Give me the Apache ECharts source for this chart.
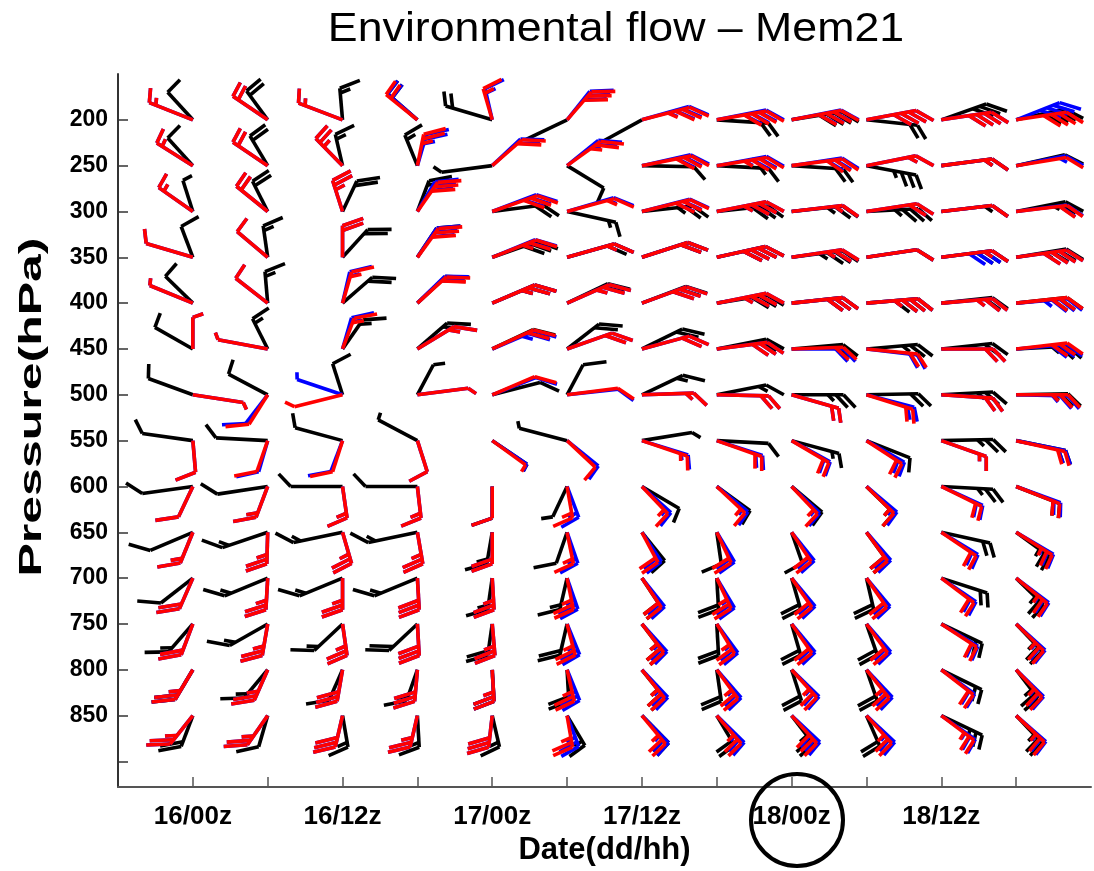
<!DOCTYPE html>
<html><head><meta charset="utf-8">
<script src="https://cdn.jsdelivr.net/npm/echarts@6/dist/echarts.min.js"></script>
<style>html,body{margin:0;padding:0;background:#fff}#c{width:1094px;height:871px}</style>
</head><body><div id="c"></div>
<script>
// hours after 15/18z for each barb column (16/00z ... 18/18z)
const colHours = [6,12,18,24,30,36,42,48,54,60,66,72];
const pressures = [200,250,300,350,400,450,500,550,600,650,700,750,800,850];
const yTickLabels = [200,250,300,350,400,450,500,550,600,650,700,750,800,850];
const yTicks = [200,250,300,350,400,450,500,550,600,650,700,750,800,850,900];
const xTicks = [6,12,18,24,30,36,42,48,54,60,66,72];
const xTickLabels = {6:'16/00z',18:'16/12z',30:'17/00z',42:'17/12z',54:'18/00z',66:'18/12z'};

// wind direction (deg, staff points to where wind comes from) and speed (kt)
const blackDir = [
[331,336,357,325,296,232,228,96,75,100,60,70],
[331,340,352,346,258,135,92,95,96,107,78,70],
[349,343,16,13,78,110,80,80,80,85,79,72],
[347,355,29,22,60,65,62,70,78,76,78,75],
[328,357,35,33,55,52,58,75,80,82,80,80],
[313,343,23,35,52,38,51,72,82,82,80,85],
[301,311,349,18,67,18,52,72,90,88,85,88],
[283,275,294,311,138,293,75,95,114,123,88,108],
[257,256,270,270,180,196,134,140,144,148,95,123],
[235,241,251,251,186,192,154,175,168,156,110,140],
[218,236,236,236,185,188,158,178,170,172,118,148],
[208,227,213,213,185,188,155,178,170,168,128,150],
[200,207,195,192,178,178,154,175,169,168,129,155],
[193,190,174,178,172,160,149,160,155,165,128,150]];
const blackSpd = [
[10,20,15,20,20,2,2,20,40,20,30,40],
[10,20,15,15,5,10,10,15,20,35,15,10],
[5,20,20,20,20,15,25,30,25,35,15,25],
[10,15,20,15,30,20,20,40,35,10,30,35],
[10,15,20,20,25,20,25,30,30,40,20,30],
[10,15,15,15,20,20,20,20,20,25,20,25],
[10,10,10,5,10,10,15,15,25,20,25,25],
[10,10,10,5,5,5,5,10,15,10,25,20],
[10,10,10,10,10,5,10,10,10,15,25,20],
[10,15,15,15,15,10,10,10,10,20,20,25],
[10,15,15,15,15,15,20,20,20,20,20,25],
[15,15,15,20,20,20,25,20,20,20,20,25],
[20,15,10,15,20,20,25,20,20,20,20,25],
[20,10,15,15,15,15,20,20,25,20,25,25]];
const redDir = [
[303,318,302,323,350,28,67,74,73,73,76,76],
[316,318,329,7,35,40,72,75,78,72,78,75],
[319,323,349,23,60,66,68,72,79,76,79,79],
[296,324,0,24,57,65,62,70,76,76,78,77],
[304,322,10,34,55,54,59,72,80,82,82,80],
[0,287,13,45,53,60,66,78,87,99,90,79],
[104,201,248,78,55,78,87,92,115,117,96,90],
[177,192,191,169,140,147,119,120,134,137,120,110],
[196,193,175,176,180,174,150,147,150,148,129,123],
[194,181,170,174,180,173,162,164,158,156,138,136],
[195,182,180,178,178,173,158,164,157,157,141,143],
[193,186,175,178,177,171,155,160,157,156,137,148],
[200,195,186,183,178,172,154,156,151,154,142,150],
[206,203,188,188,184,174,153,152,151,151,141,147]];
const redSpd = [
[15,20,15,20,15,30,35,40,40,40,40,40],
[15,20,25,25,20,25,30,35,30,15,15,10],
[15,20,25,30,30,15,30,35,15,20,10,20],
[10,10,20,30,25,15,20,40,25,10,15,40],
[5,10,15,20,25,25,30,35,30,35,25,30],
[5,5,15,15,20,20,20,30,20,20,20,30],
[5,10,5,5,10,10,15,20,20,20,20,25],
[10,10,10,10,5,10,15,20,20,20,15,20],
[10,15,15,15,10,15,15,15,15,15,20,20],
[15,25,25,25,20,15,20,20,20,20,20,25],
[20,25,25,30,25,25,20,25,20,20,20,25],
[20,25,25,30,25,25,25,25,20,20,20,25],
[25,25,30,30,25,25,25,25,25,25,20,25],
[25,25,30,25,30,25,25,25,30,25,25,25]];
const blueDir = [
[303,318,302,325,352,26,65,72,72,73,76,57],
[316,318,329,10,33,37,70,73,76,72,78,72],
[319,323,349,20,58,64,67,72,79,76,79,78],
[296,324,0,22,56,65,62,70,76,76,78,77],
[304,322,8,32,55,54,59,72,80,82,82,82],
[0,287,10,45,55,60,66,78,90,101,90,82],
[104,205,299,78,57,80,87,92,115,113,96,92],
[177,190,193,169,138,143,117,118,132,133,120,108],
[196,193,175,176,180,167,146,143,147,144,127,121],
[194,181,170,174,180,168,158,160,154,152,135,134],
[195,182,180,178,178,168,154,160,153,153,138,141],
[193,186,175,178,177,166,151,156,153,152,135,146],
[200,195,186,183,178,166,150,152,148,150,140,148],
[206,203,188,188,184,167,149,148,147,147,139,145]];
const blueSpd = [
[15,20,15,20,15,30,35,40,40,40,40,40],
[15,20,25,25,20,25,30,35,30,15,15,15],
[15,20,25,30,30,15,30,35,15,20,10,20],
[10,10,20,30,25,15,20,40,25,10,40,40],
[5,10,15,20,25,25,30,35,30,35,25,35],
[5,5,15,15,25,20,20,30,20,20,20,30],
[5,10,5,5,10,10,15,20,20,20,20,25],
[10,10,10,10,5,10,15,20,20,20,15,20],
[10,15,15,15,10,15,15,15,15,15,20,20],
[15,25,25,25,20,15,20,20,20,20,20,25],
[20,25,25,30,25,25,20,25,20,20,20,25],
[20,25,25,30,25,25,25,25,20,20,20,25],
[25,25,30,30,25,25,25,25,25,25,20,25],
[25,25,30,25,30,25,25,25,30,25,25,25]];

function build(dirs, spds){
  const out = [];
  pressures.forEach((p, r) => colHours.forEach((h, c) => out.push([h, p, dirs[r][c], spds[r][c]])));
  return out;
}

// staff length in data units (hours, hPa)
const STAFF = [4.16, 34.5];
function barbRenderer(color){
  return function(params, api){
    const base = api.coord([api.value(0), api.value(1)]);
    const sz = api.size(STAFF);
    const d = api.value(2) * Math.PI / 180, s = api.value(3);
    const ux = Math.sin(d), uy = Math.cos(d);
    const px = (bx, by) => [base[0] + bx * sz[0], base[1] - by * sz[1]];
    const style = {stroke: color, lineWidth: 3.6, lineCap: 'butt', lineJoin: 'miter'};
    const kids = [];
    const tip = px(ux, uy);
    kids.push({type:'line', shape:{x1:base[0], y1:base[1], x2:tip[0], y2:tip[1]}, style});
    const fd = d + Math.PI / 3;
    const fx = Math.sin(fd), fy = Math.cos(fd);
    const n10 = Math.floor(s / 10);
    const half = (s - n10 * 10) >= 5;
    let pos = 1.0;
    const feather = (len) => {
      const a = px(ux * pos, uy * pos);
      const b = px(ux * pos + fx * len, uy * pos + fy * len);
      kids.push({type:'line', shape:{x1:a[0], y1:a[1], x2:b[0], y2:b[1]}, style});
      pos -= 0.15;
    };
    for (let i = 0; i < n10; i++) feather(0.46);
    if (half) feather(0.23);
    return {type:'group', children: kids};
  };
}

const chart = echarts.init(document.getElementById('c'));
const axisColor = '#555';
chart.setOption({
  animation: false,
  grid: {left: 118, right: 1, top: 74, bottom: 76},
  xAxis: {type: 'value', min: 0, max: 78, interval: 6,
    name: 'Date(dd/hh)', nameLocation: 'middle', nameGap: 40,
    nameTextStyle: {fontFamily: 'Liberation Sans', fontWeight: 'bold', fontSize: 31, color: '#000'},
    axisLine: {lineStyle: {color: axisColor, width: 2}},
    axisTick: {inside: true, length: 10, customValues: xTicks, lineStyle: {color: axisColor, width: 1.5}},
    axisLabel: {margin: 17, fontFamily: 'Liberation Sans', fontWeight: 'bold', fontSize: 26, color: '#000',
      formatter: v => xTickLabels[v] || ''},
    splitLine: {show: false}},
  yAxis: {type: 'value', inverse: true, min: 150, max: 928, interval: 50,
    axisLine: {show: true, lineStyle: {color: '#333', width: 2}},
    axisTick: {inside: true, length: 10, customValues: yTicks, lineStyle: {color: '#333', width: 1.5}},
    axisLabel: {margin: 10, fontFamily: 'Liberation Sans', fontWeight: 'bold', fontSize: 23, color: '#000',
      formatter: v => yTickLabels.indexOf(v) >= 0 ? String(v) : ''},
    splitLine: {show: false}},
  series: [
    {type: 'custom', name: 'black', renderItem: barbRenderer('#000000'), data: build(blackDir, blackSpd), clip: false, z: 2},
    {type: 'custom', name: 'blue', renderItem: barbRenderer('#0000ff'), data: build(blueDir, blueSpd), clip: false, z: 3},
    {type: 'custom', name: 'red', renderItem: barbRenderer('#ff0000'), data: build(redDir, redSpd), clip: false, z: 4}
  ],
  graphic: [
    {type: 'text', x: 616, y: 30, scaleX: 1.09, z: 100,
      style: {text: 'Environmental flow \u2013 Mem21', font: '41px "Liberation Sans"', fill: '#000',
        textAlign: 'center', textVerticalAlign: 'middle', align: 'center', verticalAlign: 'middle'}},
    {type: 'text', x: 32, y: 407, rotation: Math.PI / 2, scaleY: 0.62, z: 100,
      style: {text: 'Pressure(hPa)', font: 'bold 50px "Liberation Sans"', fill: '#000',
        textAlign: 'center', textVerticalAlign: 'middle', align: 'center', verticalAlign: 'middle'}},
    {type: 'circle', shape: {cx: 797, cy: 820, r: 46}, style: {fill: 'none', stroke: '#000', lineWidth: 4}, z: 100}
  ]
});
</script></body></html>
